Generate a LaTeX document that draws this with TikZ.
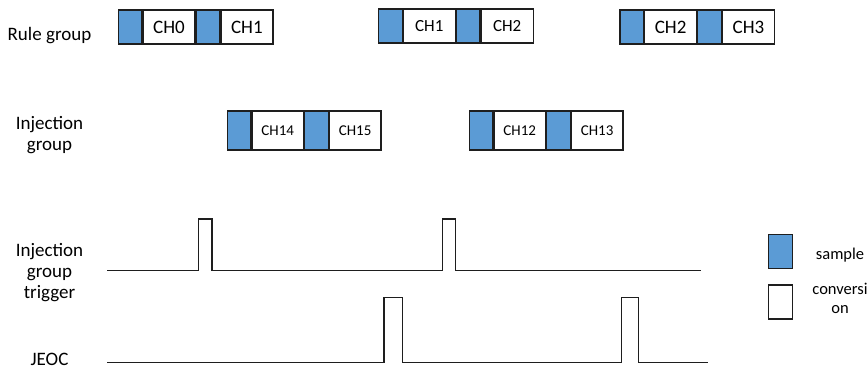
\documentclass[tikz,border=0pt]{standalone}
\usepackage{fontspec}
\setmainfont{Carlito}
\usepackage{tikz}
\usetikzlibrary{matrix}
\definecolor{sampblue}{HTML}{5B9BD5}
\definecolor{edge}{HTML}{1E1E1E}

\begin{document}
\begin{tikzpicture}[x=1pt,y=-1pt,
	cell/.style={draw=edge,line width=1.2pt,inner sep=0pt,outer sep=0pt,minimum height=34pt,anchor=center},
	samp/.style={cell,fill=sampblue,minimum width=23.5pt},
	conv/.style={cell,fill=white,minimum width=52pt},
	isamp/.style={samp,minimum height=39pt},
	iconv/.style={conv,minimum height=39pt,minimum width=51.5pt},
	grp/.style={matrix of nodes,nodes in empty cells,ampersand replacement=\&,inner sep=0pt,outer sep=0pt,column sep=0pt,anchor=west},
	lbl/.style={align=center,inner sep=0pt,font=\fontsize{19}{21}\selectfont},
	leg/.style={align=center,inner sep=0pt,font=\fontsize{16.5}{19}\selectfont},
	wave/.style={draw=edge,line width=1.5pt,line join=miter}]
		\useasboundingbox (0,0) rectangle (868,369);
		% row labels
		\node[lbl] (rulelbl) at (49.5,36) {Rule group};
		\node[lbl] (injlbl) at (49.5,135) {Injection\\group};
		\node[lbl] (trglbl) at (49.5,272.5) {Injection\\group\\trigger};
		\node[lbl] (jeoclbl) at (49.5,359.5) {JEOC};
		% rule group
		\matrix (rule1) [grp,nodes={font=\fontsize{19}{21}\selectfont}] at (117.7,27)
		{
			|[samp](r1s0)| \& |[conv](r1c0)| CH0 \& |[samp](r1s1)| \& |[conv](r1c1)| CH1 \\
		};
		\matrix (rule2) [grp,nodes={font=\fontsize{17}{20}\selectfont}] at (378,26)
		{
			|[samp](r2s0)| \& |[conv](r2c0)| CH1 \& |[samp](r2s1)| \& |[conv](r2c1)| CH2 \\
		};
		\matrix (rule3) [grp,nodes={font=\fontsize{19}{21}\selectfont}] at (619.3,27)
		{
			|[samp](r3s0)| \& |[conv](r3c0)| CH2 \& |[samp](r3s1)| \& |[conv](r3c1)| CH3 \\
		};
		% injection group
		\matrix (inj1) [grp,nodes={font=\fontsize{15}{18}\selectfont}] at (226.7,130.5)
		{
			|[isamp](i1s0)| \& |[iconv](i1c0)| CH14 \& |[isamp](i1s1)| \& |[iconv](i1c1)| CH15 \\
		};
		\matrix (inj2) [grp,nodes={font=\fontsize{15}{18}\selectfont}] at (468.7,130.5)
		{
			|[isamp](i2s0)| \& |[iconv](i2c0)| CH12 \& |[isamp](i2s1)| \& |[iconv](i2c1)| CH13 \\
		};
		% signals
		\draw[wave] (107,270.3) -- (198.3,270.3) -- (198.3,219) -- (212,219) -- (212,270.3)
			-- (442.3,270.3) -- (442.3,219) -- (455.7,219) -- (455.7,270.3) -- (700.7,270.3);
		\draw[wave] (107,362.7) -- (384,362.7) -- (384,297.3) -- (402.3,297.3) -- (402.3,362.7)
			-- (621.7,362.7) -- (621.7,297.3) -- (638.7,297.3) -- (638.7,362.7) -- (708,362.7);
		% legend
		\node[samp,minimum width=24pt] (legs) at (780.6,251.2) {};
		\node[conv,minimum width=24pt] (legc) at (780.6,302) {};
		\node[leg] (legstxt) at (840,255) {sample};
		\node[leg] (legctxt) at (840,298.5) {conversi\\on};
\end{tikzpicture}
\end{document}
